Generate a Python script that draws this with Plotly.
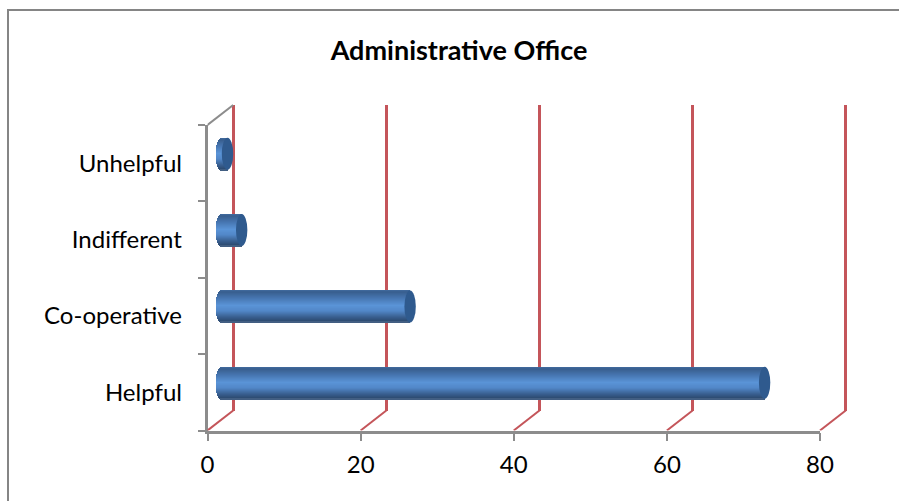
import math
import plotly.graph_objects as go

# ---- data ----
categories = ["Helpful", "Co-operative", "Indifferent", "Unhelpful"]
values = [71, 24.7, 2.7, 0.85]
x_ticks = [0, 20, 40, 60, 80]
title_text = "Administrative Office"

# ---- layout geometry (pixels) ----
W, H = 899, 501
X0, X80 = 207.5, 820.0       # front axis
Y_FLOOR, Y_TOP = 430.5, 125.0
WALL_DX, WALL_DY = 25.7, 20.0  # depth of back wall
BAR_DX, BAR_DY = 13.5, 9.5     # depth of bar centre
SCALE = (X80 - X0) / 80.0
CAT = (Y_FLOOR - Y_TOP) / 4.0
PAD = 2.0                     # extra x units of the inner subplots
TWIN_X_EXTRA = 8.0            # extra room on the diagonal axes
TWIN_Y_EXTRA = 0.5

GRID = "#C4555A"
AXIS = "#8C8C8C"
FONT = "Lato"
TXT = "#000000"

strip_stops = [(0.0, (66, 107, 160)), (0.06, (56, 94, 142)), (0.25, (70, 117, 176)), (0.48, (90, 148, 215)),
               (0.65, (82, 135, 200)), (0.85, (56, 94, 142)), (0.97, (44, 74, 112)), (1.0, (90, 115, 150))]
CAP = "#2F5A8E"
BAR_PX = 32.0
CAP_RX = 5.7
N_STRIPS = 32

def dom_x(a, b):
    return [a / W, b / W]

def dom_y(top, bottom):
    return [1 - bottom / H, 1 - top / H]

def strip_color(t):
    for (t0, c0), (t1, c1) in zip(strip_stops, strip_stops[1:]):
        if t <= t1:
            f = (t - t0) / (t1 - t0)
            return "rgb(%d,%d,%d)" % tuple(round(a + (b - a) * f) for a, b in zip(c0, c1))
    return "rgb(%d,%d,%d)" % strip_stops[-1][1]

fig = go.Figure()

# invisible trace so that the front axis carries the category labels
fig.add_trace(go.Scatter(x=values, y=categories, mode="markers", marker=dict(opacity=0),
                         hoverinfo="skip", showlegend=False, xaxis="x", yaxis="y"))

# back wall subplot: only holds the gridlines
fig.add_trace(go.Scatter(x=[x_ticks[0], x_ticks[-1]], y=[0, 0], mode="markers", marker=dict(opacity=0),
                         hoverinfo="skip", showlegend=False, xaxis="x2", yaxis="y2"))

# floor diagonals and top-left diagonal (from tick values, shifted by the depth), on a linear twin of the front axes
dx_u = WALL_DX / SCALE
dy_u = WALL_DY / CAT
diag_x, diag_y = [], []
for t in x_ticks:
    diag_x += [t, t + dx_u, None]
    diag_y += [-0.5, -0.5 + dy_u, None]
fig.add_trace(go.Scatter(x=diag_x, y=diag_y, mode="lines", line=dict(color=GRID, width=2),
                         cliponaxis=False, hoverinfo="skip", showlegend=False, xaxis="x4", yaxis="y4"))
fig.add_trace(go.Scatter(x=[0, dx_u], y=[3.5, 3.5 + dy_u], mode="lines", line=dict(color=AXIS, width=2),
                         cliponaxis=False, hoverinfo="skip", showlegend=False, xaxis="x4", yaxis="y4"))

# cylinders as stacked thin strips; each strip starts on the elliptical left end
bar_w = BAR_PX / CAT
rx_u = CAP_RX / SCALE
for i in range(N_STRIPS):
    t = (i + 0.5) / N_STRIPS
    start = -rx_u * math.sqrt(max(0.0, 1 - (2 * t - 1) ** 2))
    fig.add_trace(go.Bar(y=categories, x=[v - start for v in values], base=start, orientation="h",
                         width=bar_w / N_STRIPS * 1.15, offset=bar_w / 2 - (i + 1) * bar_w / N_STRIPS,
                         marker=dict(color=strip_color(t), line=dict(width=0)),
                         hoverinfo="skip", showlegend=False, xaxis="x3", yaxis="y3"))

shapes = []
# dark right end cap
for j, v in enumerate(values):
    shapes.append(dict(type="circle", xref="x3", yref="y3", layer="above",
                       x0=v - rx_u, x1=v + rx_u, y0=j - bar_w / 2, y1=j + bar_w / 2,
                       fillcolor=CAP, line=dict(width=0)))
# outer frame: left and top only
shapes.append(dict(type="path", xref="paper", yref="paper", layer="below",
                   path=f"M {8/W} 0 L {8/W} {1-10/H} L 1 {1-10/H}",
                   line=dict(color="#858585", width=2)))

cat_axis = dict(type="category", categoryorder="array", categoryarray=categories, range=[-0.5, 3.5])

fig.update_layout(
    width=W, height=H,
    margin=dict(l=0, r=0, t=0, b=0, pad=0, autoexpand=False),
    paper_bgcolor="white", plot_bgcolor="rgba(0,0,0,0)",
    barmode="overlay", bargap=0, showlegend=False,
    shapes=shapes,
    title=dict(text=f"<b>{title_text}</b>", x=459 / W, xanchor="center", y=1 - 51 / H, yanchor="middle",
               font=dict(family=FONT, size=27, color=TXT)),
    xaxis=dict(domain=dom_x(X0, X80), range=[0, 80], tickvals=x_ticks, showgrid=False, zeroline=False,
               showline=True, linecolor=AXIS, linewidth=2.5, ticks="outside", ticklen=8, tickwidth=2,
               tickcolor=AXIS, tickfont=dict(family=FONT, size=24, color=TXT), ticklabelstandoff=3,
               anchor="y"),
    yaxis=dict(domain=dom_y(Y_TOP, Y_FLOOR), showgrid=False, zeroline=False,
               showline=True, linecolor=AXIS, linewidth=2.5, ticks="outside", ticklen=7, tickwidth=2,
               tickcolor=AXIS, tickson="boundaries", tickfont=dict(family=FONT, size=24, color=TXT),
               ticklabelstandoff=18, anchor="x", **cat_axis),
    xaxis2=dict(domain=dom_x(X0 + WALL_DX - PAD * SCALE, X80 + WALL_DX + PAD * SCALE), range=[-PAD, 80 + PAD],
                tickvals=x_ticks, showgrid=True,
                gridcolor=GRID, gridwidth=2.5, zeroline=False, showline=False, ticks="", showticklabels=False,
                anchor="y2"),
    yaxis2=dict(domain=dom_y(Y_TOP - WALL_DY, Y_FLOOR - WALL_DY), range=[-1, 1], showgrid=False,
                zeroline=False, showline=False, ticks="", showticklabels=False, anchor="x2"),
    xaxis3=dict(domain=dom_x(X0 + BAR_DX - PAD * SCALE, X80 + BAR_DX + PAD * SCALE), range=[-PAD, 80 + PAD],
                visible=False, anchor="y3"),
    yaxis3=dict(domain=dom_y(Y_TOP - BAR_DY, Y_FLOOR - BAR_DY), visible=False, anchor="x3", **cat_axis),
    xaxis4=dict(domain=dom_x(X0, X80 + TWIN_X_EXTRA * SCALE), range=[0, 80 + TWIN_X_EXTRA],
                visible=False, anchor="y4"),
    yaxis4=dict(domain=dom_y(Y_TOP - TWIN_Y_EXTRA * CAT, Y_FLOOR), range=[-0.5, 3.5 + TWIN_Y_EXTRA],
                visible=False, anchor="x4"),
)

fig.write_html("out.html", config=dict(displayModeBar=False),
               post_script="document.body.style.margin='0';document.documentElement.style.overflow='hidden';")
